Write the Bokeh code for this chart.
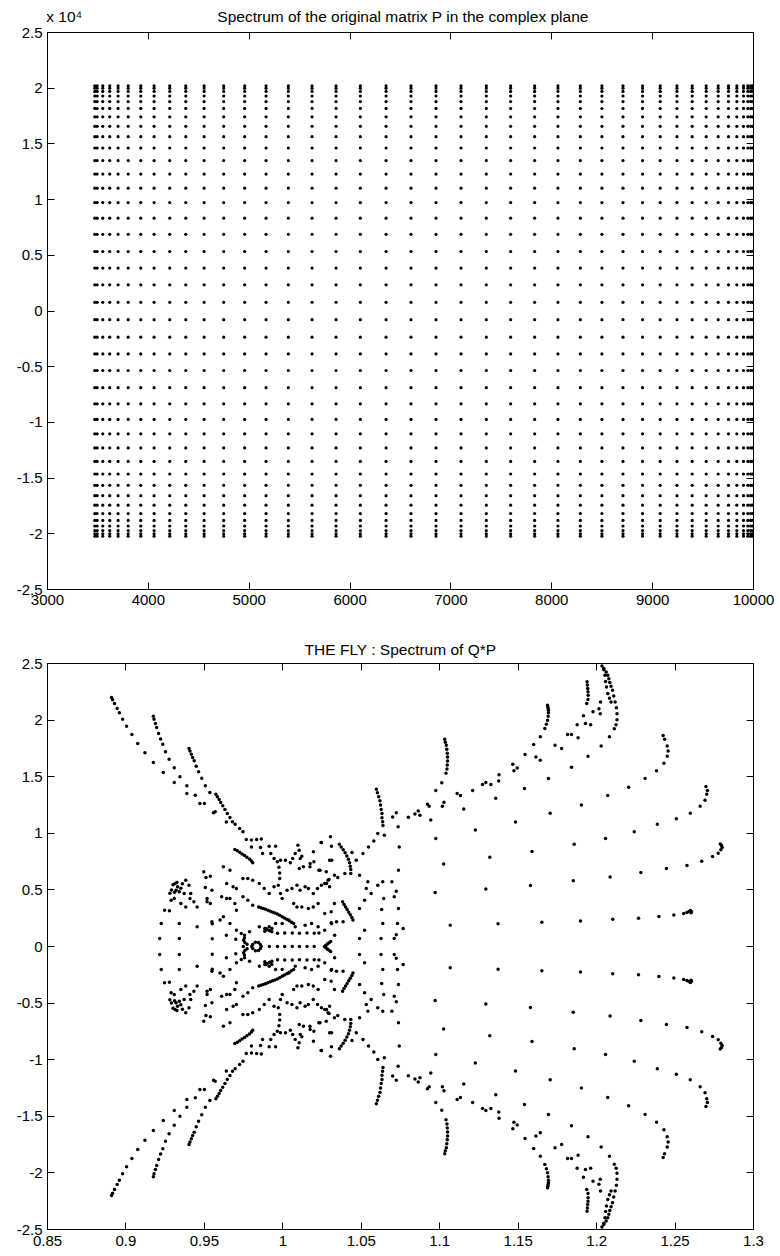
from bokeh.plotting import figure
from bokeh.layouts import column
from bokeh.models import (Range1d, FixedTicker, LinearAxis, CustomJSTickFormatter)
from bokeh.embed import file_html
from bokeh.resources import INLINE

# ---------------- data: top plot (spectrum of P) ----------------
p_real = [3469, 3492, 3548, 3617, 3700, 3800, 3925, 4057, 4212, 4371, 4553, 4747,
          4955, 5167, 5388, 5623, 5861, 6102, 6357, 6604, 6852, 7100, 7351, 7592,
          7830, 8061, 8283, 8497, 8706, 8900, 9075, 9241, 9392, 9531, 9650, 9752,
          9835, 9901, 9944, 9972, 9990]
p_imag = [20220, 20000, 19710, 19300, 18800, 18180, 17430, 16580, 15650, 14630,
          13500, 12290, 11030, 9730, 8330, 6880, 5340, 3850, 2350, 780,
          -780, -2350, -3850, -5340, -6880, -8330, -9730, -11030, -12290, -13500,
          -14630, -15650, -16580, -17430, -18180, -18800, -19300, -19710, -20000, -20220]
top_xticks = [3000, 4000, 5000, 6000, 7000, 8000, 9000, 10000]
top_yticks = [-25000, -20000, -15000, -10000, -5000, 0, 5000, 10000, 15000, 20000, 25000]

# ---------------- data: bottom plot (THE FLY, upper half; conjugates mirrored) ----------------
arm_a_x = [0.8908, 0.8915, 0.8927, 0.8944, 0.8958, 0.8979, 0.9004, 0.9038, 0.9075, 0.9121,
           0.9175, 0.9238, 0.9308, 0.9388, 0.9471, 0.9558, 0.9640]
arm_a_y = [2.200, 2.180, 2.147, 2.102, 2.064, 2.008, 1.946, 1.873, 1.793, 1.711,
           1.625, 1.537, 1.449, 1.352, 1.263, 1.181, 1.100]
arm_b_x = [0.9175, 0.9179, 0.9188, 0.9196, 0.9208, 0.9221, 0.9235, 0.9252, 0.9275, 0.9308,
           0.9344, 0.9388, 0.9442, 0.9500, 0.9569]
arm_b_y = [2.035, 2.008, 1.970, 1.935, 1.882, 1.834, 1.787, 1.720, 1.655, 1.578,
           1.499, 1.419, 1.337, 1.263, 1.190]
arm_c_x = [0.9402, 0.9408, 0.9417, 0.9425, 0.9435, 0.9448, 0.9463, 0.9483, 0.9506, 0.9535]
arm_c_y = [1.749, 1.726, 1.699, 1.670, 1.640, 1.593, 1.543, 1.487, 1.419, 1.360]
arm_d_x = [0.9573, 0.9583, 0.9594, 0.9604, 0.9617, 0.9631, 0.9646, 0.9663, 0.9679, 0.9696,
           0.9725, 0.9746]
arm_d_y = [1.346, 1.322, 1.299, 1.272, 1.243, 1.210, 1.175, 1.140, 1.101, 1.081, 1.042, 1.013]
streak_x = [0.9694, 0.9710, 0.9725, 0.9740, 0.9756, 0.9771, 0.9787, 0.9800, 0.9808]
streak_y = [0.857, 0.845, 0.832, 0.818, 0.803, 0.789, 0.772, 0.755, 0.739]
zigzag_x = [0.9846, 0.9860, 0.9875, 0.9890, 0.9905, 0.9920, 0.9935, 0.9950, 0.9965, 0.9980,
            0.9996, 1.0010, 1.0025, 1.0040, 1.0055, 1.0069]
zigzag_y = [0.350, 0.343, 0.336, 0.328, 0.320, 0.312, 0.303, 0.295, 0.286, 0.275,
            0.262, 0.252, 0.240, 0.228, 0.215, 0.203]
hook1_x = [1.0360, 1.0372, 1.0385, 1.0397, 1.0408, 1.0418, 1.0425, 1.0430, 1.0433, 1.0433]
hook1_y = [0.904, 0.880, 0.855, 0.828, 0.800, 0.770, 0.740, 0.710, 0.680, 0.645]
hook2_x = [1.0381, 1.0390, 1.0400, 1.0410, 1.0420, 1.0430, 1.0440, 1.0447]
hook2_y = [0.395, 0.372, 0.350, 0.327, 0.303, 0.280, 0.256, 0.233]
blob_pts = [
    (0.9767, 0.945), (0.9800, 0.940), (0.9833, 0.946), (0.9863, 0.950),
    (0.9800, 0.880), (0.9858, 0.875), (0.9913, 0.886), (0.9954, 0.886), (1.0096, 0.895),
    (1.0104, 0.851), (1.0246, 0.919), (1.0304, 0.969), (1.0310, 0.886),
    (0.9871, 0.822), (0.9923, 0.822), (0.9944, 0.777), (0.9965, 0.748), (0.9985, 0.763),
    (1.0017, 0.763), (1.0048, 0.739), (1.0063, 0.777), (1.0079, 0.822), (1.0121, 0.798),
    (1.0131, 0.704), (1.0173, 0.704), (1.0198, 0.748), (1.0229, 0.674), (1.0277, 0.660),
    (1.0298, 0.763), (1.0329, 0.630), (1.0350, 0.610),
    (0.9313, 0.557), (0.9329, 0.527), (0.9319, 0.498), (0.9340, 0.483), (0.9381, 0.586),
    (0.9402, 0.542), (0.9371, 0.468), (0.9413, 0.468), (0.9496, 0.660), (0.9510, 0.610),
    (0.9538, 0.621), (0.9506, 0.521), (0.9548, 0.498), (0.9517, 0.424), (0.9621, 0.704),
    (0.9663, 0.674), (0.9642, 0.557), (0.9683, 0.527), (0.9704, 0.512), (0.9746, 0.601),
    (0.9777, 0.601), (0.9808, 0.586), (0.9850, 0.557), (0.9881, 0.512), (0.9913, 0.468),
    (0.9944, 0.527), (0.9971, 0.542), (0.9985, 0.468), (0.9996, 0.424), (1.0027, 0.498),
    (1.0058, 0.512), (1.0090, 0.542), (1.0110, 0.498), (1.0142, 0.527), (1.0163, 0.512),
    (1.0194, 0.468), (1.0221, 0.512), (1.0246, 0.542), (1.0267, 0.557), (1.0288, 0.586),
    (1.0298, 0.527),
    (0.9300, 0.545), (0.9325, 0.565), (0.9290, 0.500), (0.9350, 0.515), (0.9280, 0.470),
    (0.9360, 0.555), (0.9310, 0.480), (0.9980, 0.600), (0.9980, 0.650), (0.9975, 0.700),
    (0.9288, 0.409), (0.9308, 0.424), (0.9350, 0.380), (0.9381, 0.350), (0.9408, 0.424),
    (0.9433, 0.395), (0.9454, 0.350), (0.9517, 0.395), (0.9538, 0.380), (0.9610, 0.439),
    (0.9642, 0.424), (0.9663, 0.424), (0.9694, 0.380), (0.9704, 0.321), (0.9746, 0.439),
    (0.9777, 0.409), (0.9808, 0.365), (1.0069, 0.380), (1.0090, 0.350), (1.0121, 0.350),
    (1.0163, 0.336), (1.0194, 0.350), (1.0225, 0.380), (1.0267, 0.292), (1.0308, 0.306),
    (1.0329, 0.380),
    (0.9246, 0.321), (0.9277, 0.315), (0.9225, 0.203), (0.9340, 0.203), (0.9215, 0.071),
    (0.9340, 0.071), (0.9454, 0.174), (0.9548, 0.218), (0.9600, 0.233), (0.9621, 0.262),
    (0.9663, 0.203), (0.9704, 0.144), (0.9735, 0.115), (0.9756, 0.100), (0.9788, 0.130),
    (0.9850, 0.174), (0.9892, 0.159), (0.9913, 0.174), (0.9954, 0.203), (0.9996, 0.203),
    (1.0038, 0.233), (1.0079, 0.174), (1.0142, 0.188), (1.0183, 0.203), (1.0225, 0.174),
    (1.0267, 0.144), (1.0308, 0.209),
    (0.9550, 0.200), (0.9550, 0.068), (0.9640, 0.100), (0.9700, 0.065), (1.0330, 0.100),
    (0.9755, 0.075), (0.9750, 0.055), (0.9758, 0.035), (0.9772, 0.020),
    (0.9825, 0.038), (0.9845, 0.035), (0.9857, 0.018), (0.9808, 0.018),
    (0.9885, 0.135), (0.9900, 0.150), (0.9915, 0.140), (0.9930, 0.130), (0.9930, 0.160),
    (0.9885, 0.160),
    (0.9966, 0.118), (1.0012, 0.120), (1.0060, 0.120), (1.0106, 0.118), (1.0154, 0.120),
    (1.0200, 0.118), (1.0230, 0.120),
    (1.0275, 0.012), (1.0285, 0.024), (1.0295, 0.034), (1.0305, 0.044),
    (1.0111, 0.777), (1.0105, 0.689), (1.0174, 0.733), (1.0195, 0.836), (1.0237, 0.674),
    (1.0244, 0.919), (1.0311, 0.763), (1.0294, 0.592), (1.0279, 0.557), (1.0395, 0.645),
    (1.0441, 0.830), (1.0468, 0.763), (1.0489, 0.630), (1.0511, 0.822), (1.0546, 0.880),
    (1.0580, 0.933), (1.0605, 0.998), (1.0647, 0.983), (1.0742, 0.880), (1.0737, 0.674),
    (1.0695, 0.571), (1.0637, 0.571), (1.0605, 0.542), (1.0542, 0.571), (1.0532, 0.512),
    (1.0563, 0.468), (1.0521, 0.409), (1.0489, 0.336), (1.0521, 0.144), (1.0637, 0.203),
    (1.0630, 0.327), (1.0643, 0.424), (1.0710, 0.439), (1.0737, 0.336), (1.0731, 0.203),
    (1.0710, 0.071), (1.0626, 0.071), (1.0489, 0.071), (1.0384, 0.218), (1.0342, 0.218),
    (1.0311, 0.203), (1.0723, 0.487), (1.0723, 0.104),
]
arc_a_x = [1.0596, 1.0603, 1.0611, 1.0619, 1.0623, 1.0627, 1.0632, 1.0632, 1.0636, 1.0638]
arc_a_y = [1.390, 1.358, 1.322, 1.287, 1.249, 1.211, 1.175, 1.137, 1.102, 1.069]
arc_b_x = [1.1032, 1.1036, 1.1042, 1.1045, 1.1048, 1.1050, 1.1050, 1.1048, 1.1046, 1.1040]
arc_b_y = [1.830, 1.805, 1.778, 1.743, 1.708, 1.674, 1.639, 1.604, 1.569, 1.530]
arc_c_x = [1.1687, 1.1689, 1.1691, 1.1693, 1.1693, 1.1691, 1.1687, 1.1680, 1.1670]
arc_c_y = [2.132, 2.117, 2.102, 2.088, 2.064, 2.035, 1.999, 1.964, 1.926]
arc_d_x = [1.1939, 1.1941, 1.1943, 1.1945, 1.1946, 1.1945, 1.1937]
arc_d_y = [2.338, 2.309, 2.279, 2.250, 2.220, 2.182, 2.147]
arc_e_x = [1.2034, 1.2046, 1.2061, 1.2071, 1.2078, 1.2084, 1.2092, 1.2101, 1.2109, 1.2118,
           1.2126, 1.2130, 1.2130, 1.2124, 1.2113]
arc_e_y = [2.479, 2.455, 2.424, 2.396, 2.365, 2.333, 2.299, 2.264, 2.212, 2.160,
           2.108, 2.056, 2.003, 1.960, 1.924]
arc_f_x = [1.2046, 1.2053, 1.2057, 1.2063, 1.2071, 1.2082, 1.2092]
arc_f_y = [2.444, 2.396, 2.340, 2.292, 2.236, 2.194, 2.160]
diag_pts = [
    (1.0700, 1.145), (1.0735, 1.057), (1.0800, 1.142), (1.0842, 1.170), (1.0863, 1.198),
    (1.0874, 1.160), (1.0922, 1.257), (1.0933, 1.240), (1.0975, 1.378), (1.1017, 1.240),
    (1.1027, 1.274), (1.1013, 1.446), (1.1111, 1.351), (1.1132, 1.333), (1.1210, 1.378),
    (1.1273, 1.431), (1.1294, 1.448), (1.1326, 1.431), (1.1376, 1.463), (1.1378, 1.517),
    (1.1466, 1.611), (1.1473, 1.552), (1.1494, 1.576), (1.1544, 1.696), (1.1599, 1.785),
    (1.1613, 1.674), (1.1641, 1.646), (1.1641, 1.852), (1.1735, 1.778), (1.1777, 1.750),
    (1.1815, 1.872), (1.1840, 1.872), (1.1882, 1.843), (1.1876, 1.958), (1.1916, 2.038),
    (1.1929, 1.969), (1.1962, 1.958), (1.1977, 2.073), (1.2023, 2.056), (1.2025, 2.160),
    (1.2015, 2.100), (1.0723, 1.181),
]
row1_x = [1.0767, 1.1067, 1.1372, 1.1651, 1.1897, 1.2103, 1.2267, 1.2397, 1.2492, 1.2555,
          1.2575, 1.2588, 1.2598, 1.2605, 1.2602]
row1_y = [0.159, 0.187, 0.201, 0.215, 0.226, 0.240, 0.250, 0.264, 0.278, 0.292,
          0.300, 0.310, 0.318, 0.308, 0.298]
row2_x = [1.0971, 1.1294, 1.1578, 1.1851, 1.2086, 1.2282, 1.2445, 1.2576, 1.2670, 1.2739,
          1.2775, 1.2792, 1.2800, 1.2796, 1.2788]
row2_y = [0.476, 0.507, 0.538, 0.580, 0.615, 0.653, 0.688, 0.715, 0.753, 0.795,
          0.823, 0.854, 0.875, 0.893, 0.905]
row3_x = [1.1025, 1.1319, 1.1588, 1.1857, 1.2057, 1.2240, 1.2387, 1.2508, 1.2597, 1.2660,
          1.2691, 1.2702, 1.2706, 1.2697]
row3_y = [0.729, 0.788, 0.840, 0.903, 0.955, 1.014, 1.080, 1.128, 1.177, 1.240,
          1.292, 1.344, 1.378, 1.413]
row4_x = [1.0975, 1.1227, 1.1483, 1.1704, 1.1903, 1.2071, 1.2204, 1.2309, 1.2382, 1.2429,
          1.2450, 1.2456, 1.2450, 1.2433, 1.2424]
row4_y = [0.955, 1.030, 1.100, 1.177, 1.250, 1.333, 1.406, 1.483, 1.552, 1.618,
          1.681, 1.726, 1.771, 1.830, 1.865]
row5_x = [1.0943, 1.1153, 1.1357, 1.1540, 1.1693, 1.1840, 1.1945, 1.2029, 1.2082]
row5_y = [1.118, 1.215, 1.309, 1.396, 1.483, 1.583, 1.680, 1.771, 1.854]
real_axis_x = [0.9748, 0.9802, 0.9862, 0.9914, 0.9966, 1.0012, 1.0060, 1.0106, 1.0154,
               1.0200, 1.0265]

fly_xticks = [0.85, 0.9, 0.95, 1.0, 1.05, 1.1, 1.15, 1.2, 1.25, 1.3]
fly_yticks = [-2.5, -2, -1.5, -1, -0.5, 0, 0.5, 1, 1.5, 2, 2.5]

title_top = "Spectrum of the original matrix P in the complex plane"
title_bottom = "THE FLY : Spectrum of Q*P"
exponent_text = "x 10\u2074"

FONT = "Liberation Sans"

# ---------------- assemble ----------------
px, py = [], []
for yv in p_imag:
    for xv in p_real:
        px.append(xv)
        py.append(yv)

groups = [(arm_a_x, arm_a_y), (arm_b_x, arm_b_y), (arm_c_x, arm_c_y), (arm_d_x, arm_d_y),
          (streak_x, streak_y), (zigzag_x, zigzag_y), (hook1_x, hook1_y), (hook2_x, hook2_y),
          ([a for a, b in blob_pts], [b for a, b in blob_pts]),
          (arc_a_x, arc_a_y), (arc_b_x, arc_b_y), (arc_c_x, arc_c_y), (arc_d_x, arc_d_y),
          (arc_e_x, arc_e_y), (arc_f_x, arc_f_y),
          ([a for a, b in diag_pts], [b for a, b in diag_pts]),
          (row1_x, row1_y), (row2_x, row2_y), (row3_x, row3_y), (row4_x, row4_y),
          (row5_x, row5_y)]
fx, fy = [], []
for gx, gy in groups:
    fx.extend(gx)
    fy.extend(gy)
    fx.extend(gx)
    fy.extend([-v for v in gy])  # complex conjugate eigenvalues
fx.extend(real_axis_x)
fy.extend([0.0] * len(real_axis_x))


def style(p, xt, yt, xfmt, yfmt, bottom_standoff=5):
    p.xgrid.visible = False
    p.ygrid.visible = False
    p.outline_line_color = "black"
    p.outline_line_width = 1
    p.background_fill_color = "white"
    p.border_fill_color = "white"
    p.xaxis.ticker = FixedTicker(ticks=xt)
    p.yaxis.ticker = FixedTicker(ticks=yt)
    p.xaxis.formatter = CustomJSTickFormatter(code=xfmt)
    p.yaxis.formatter = CustomJSTickFormatter(code=yfmt)
    for ax in (p.xaxis[0], p.yaxis[0]):
        ax.major_tick_in = 7
        ax.major_tick_out = 0
        ax.minor_tick_in = 0
        ax.minor_tick_out = 0
        ax.axis_line_color = "black"
        ax.major_tick_line_color = "black"
        ax.major_label_text_font = FONT
        ax.major_label_text_font_size = "15px"
        ax.major_label_text_color = "black"
    p.xaxis[0].major_label_standoff = bottom_standoff
    p.yaxis[0].major_label_standoff = 5
    for loc, t in (("above", xt), ("right", yt)):
        ax = LinearAxis(ticker=FixedTicker(ticks=t),
                        formatter=CustomJSTickFormatter(code="return ''"),
                        major_tick_in=7, major_tick_out=0, minor_tick_in=0, minor_tick_out=0,
                        major_label_text_font_size="0px", major_label_standoff=0,
                        axis_line_color="black", major_tick_line_color="black")
        p.add_layout(ax, loc)


# top figure
p1 = figure(width=776, height=620, output_backend="svg", toolbar_location=None,
            x_range=Range1d(3000, 10000), y_range=Range1d(-25000, 25000),
            min_border_left=47, min_border_right=23, min_border_top=32, min_border_bottom=31)
style(p1, top_xticks, top_yticks,
      "return String(tick)",
      "return String(Math.round(tick / 1e4 * 1e6) / 1e6)")
# exponent marker and title, written as labels of an extra top axis (outside the frame)
head_ticks = [3166, 6525]
head_axis = LinearAxis(ticker=FixedTicker(ticks=head_ticks),
                       major_label_overrides={3166: exponent_text, 6525: title_top},
                       major_tick_in=0, major_tick_out=0, minor_tick_in=0, minor_tick_out=0,
                       axis_line_color=None, major_tick_line_color=None,
                       major_label_text_font=FONT, major_label_text_font_size="15.5px",
                       major_label_text_color="black", major_label_standoff=8)
p1.add_layout(head_axis, "above")
p1.scatter(x=px, y=py, marker="circle", size=3.2, fill_color="black", line_color=None)

# bottom figure
p2 = figure(width=776, height=634, output_backend="svg", toolbar_location=None,
            x_range=Range1d(0.85, 1.3), y_range=Range1d(-2.5, 2.5),
            min_border_left=47, min_border_right=23, min_border_top=43, min_border_bottom=25)
style(p2, fly_xticks, fly_yticks,
      "return String(Math.round(tick * 1e6) / 1e6)",
      "return String(Math.round(tick * 1e6) / 1e6)", bottom_standoff=6)
p2.title.text = title_bottom
p2.title.align = "center"
p2.title.text_font = FONT
p2.title.text_font_size = "15.5px"
p2.title.text_font_style = "normal"
p2.title.text_color = "black"
p2.title.standoff = 11
p2.scatter(x=fx, y=fy, marker="circle", size=3.5, fill_color="black", line_color=None)

layout = column(p1, p2, spacing=0)
open("out.html", "w").write(file_html(layout, INLINE))
